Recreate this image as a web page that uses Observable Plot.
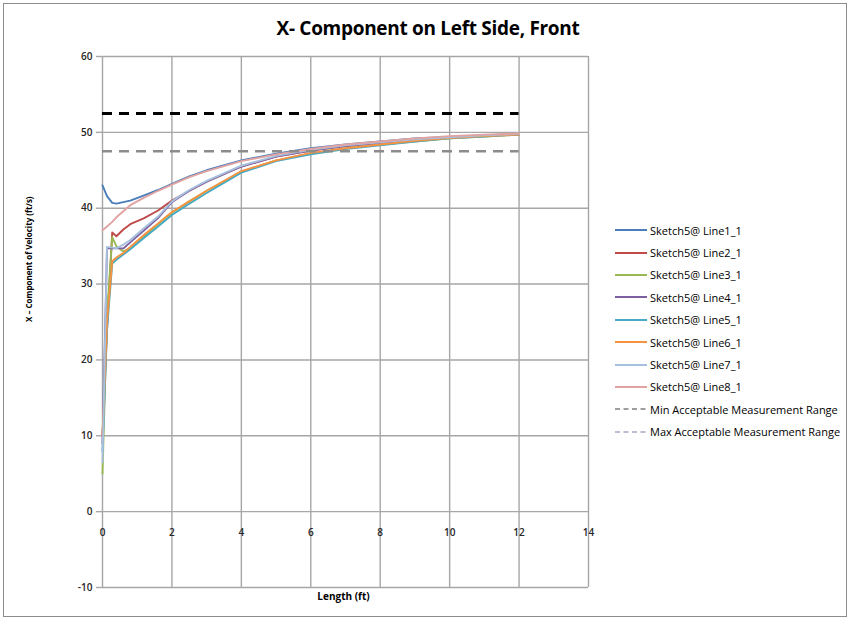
<!DOCTYPE html>
<html>
<head>
<meta charset="utf-8">
<script src="https://cdn.jsdelivr.net/npm/d3@7"></script>
<script src="https://cdn.jsdelivr.net/npm/@observablehq/plot@0.6"></script>
<style>
  html, body { margin: 0; padding: 0; background: #fff; }
  #wrap { position: relative; width: 852px; height: 621px; font-family: "Open Sans", sans-serif; }
  #border { position: absolute; left: 3px; top: 3px; width: 844px; height: 614px; border: 1px solid #8c8c8c; box-sizing: border-box; pointer-events: none; }
  #title { position: absolute; left: 0; width: 856px; top: 15px; text-align: center; font-size: 19px; font-weight: 700; color: #000; letter-spacing: -0.3px; }
  #chart { position: absolute; left: 0; top: 0; }
  #legend { position: absolute; left: 615px; top: 219px; font-size: 11px; color: #000; }
  .row { height: 22.4px; display: flex; align-items: center; white-space: nowrap; }
  .row svg { margin-right: 3px; }
</style>
</head>
<body>
<div id="wrap">
  <div id="chart"></div>
  <div id="title">X- Component on Left Side, Front</div>
  <div id="legend"></div>
  <div id="border"></div>
</div>
<script>
// Data
const xs = [0, 0.13, 0.28, 0.4, 0.6, 0.8, 1.2, 1.6, 2, 2.5, 3, 4, 5, 6, 7, 8, 9, 10, 11, 12];
const seriesNames = ["Sketch5@ Line1_1", "Sketch5@ Line2_1", "Sketch5@ Line3_1", "Sketch5@ Line4_1",
                     "Sketch5@ Line5_1", "Sketch5@ Line6_1", "Sketch5@ Line7_1", "Sketch5@ Line8_1"];
const line1 = [43.0, 41.6, 40.7, 40.6, 40.8, 41.0, 41.7, 42.4, 43.2, 44.2, 45.0, 46.3, 47.2, 47.9, 48.4, 48.8, 49.2, 49.4, 49.6, 49.8];
const line2 = [10.0, 24.0, 36.8, 36.3, 37.2, 37.9, 38.7, 39.7, 41.0, 42.3, 43.5, 45.5, 46.8, 47.6, 48.2, 48.6, 49.0, 49.3, 49.55, 49.75];
const line3 = [5.0, 26.0, 36.2, 35.0, 34.3, 34.7, 36.3, 37.9, 39.4, 40.9, 42.3, 44.8, 46.3, 47.2, 47.9, 48.4, 48.8, 49.2, 49.45, 49.7];
const line4 = [9.0, 34.7, 34.7, 34.7, 34.7, 35.5, 37.1, 38.7, 40.8, 42.3, 43.5, 45.5, 46.8, 47.6, 48.2, 48.6, 49.0, 49.3, 49.55, 49.75];
const line5 = [8.0, 24.0, 32.7, 33.2, 33.9, 34.6, 36.1, 37.6, 39.1, 40.6, 42.0, 44.7, 46.2, 47.1, 47.8, 48.3, 48.8, 49.2, 49.45, 49.7];
const line6 = [10.0, 25.0, 33.0, 33.5, 34.1, 34.9, 36.5, 38.0, 39.5, 40.9, 42.3, 44.9, 46.3, 47.3, 47.9, 48.4, 48.9, 49.25, 49.5, 49.7];
const line7 = [6.5, 34.9, 34.8, 34.7, 35.2, 35.8, 37.4, 38.9, 40.9, 42.4, 43.6, 45.6, 46.9, 47.7, 48.3, 48.7, 49.1, 49.35, 49.6, 49.8];
const line8 = [37.1, 37.6, 38.2, 38.8, 39.6, 40.4, 41.4, 42.3, 43.1, 44.1, 44.9, 46.2, 47.1, 47.8, 48.4, 48.8, 49.2, 49.5, 49.7, 49.85];
const seriesColors = ["#4a7ebb", "#be4b48", "#98b954", "#7d60a0", "#46aac5", "#f69240", "#a7c0de", "#e0a3a1"];
const rangeNames = ["Min Acceptable Measurement Range", "Max Acceptable Measurement Range"];
const rangeValues = [52.5, 47.5];
const rangeXEnd = 12;
const xTicks = [0, 2, 4, 6, 8, 10, 12, 14];
const yTicks = [-10, 0, 10, 20, 30, 40, 50, 60];

const allSeries = [line1, line2, line3, line4, line5, line6, line7, line8];
const data = [];
allSeries.forEach((vals, i) => vals.forEach((v, j) => data.push({series: seriesNames[i], x: xs[j], y: v})));
const rangeData = rangeValues.map((v, i) => ({name: rangeNames[i], y: v}));

const grid = "#a6a6a6";
const chart = Plot.plot({
  width: 852,
  height: 621,
  marginLeft: 102,
  marginRight: 264,
  marginTop: 56,
  marginBottom: 34,
  style: {fontFamily: "Open Sans, sans-serif", background: "transparent"},
  x: {domain: [0, 14], axis: null},
  y: {domain: [-10, 60], axis: null},
  color: {domain: seriesNames, range: seriesColors},
  marks: [
    Plot.gridX(xTicks, {stroke: grid, strokeOpacity: 1, strokeWidth: 1.4}),
    Plot.gridY(yTicks, {stroke: grid, strokeOpacity: 1, strokeWidth: 1.4}),
    Plot.axisY(yTicks, {tickSize: 6, tickPadding: 4, stroke: grid, strokeWidth: 1.4, fontSize: 10, fontWeight: 600, fill: "#262626", label: null, tickFormat: d => String(d)}),
    Plot.text(xTicks, {x: d => d, y: 0, dy: 21, text: d => String(d), fontSize: 10, fontWeight: 600, fill: "#262626"}),
    Plot.text(["X – Component of Velocity (ft/s)"], {frameAnchor: "left", dx: -73, rotate: -90, text: d => d, fontSize: 8, fontWeight: 700, fill: "#000"}),
    Plot.text(["Length (ft)"], {frameAnchor: "bottom", dy: 12, dx: -2, text: d => d, fontSize: 10, fontWeight: 700, fill: "#000"}),
    Plot.line(data, {x: "x", y: "y", z: "series", stroke: "series", strokeWidth: 1.9, strokeLinejoin: "round"}),
    Plot.ruleY(rangeData.slice(0, 1), {y: "y", x1: 0, x2: rangeXEnd, stroke: "#000", strokeWidth: 3, strokeDasharray: "10,7"}),
    Plot.ruleY(rangeData.slice(1), {y: "y", x1: 0, x2: rangeXEnd, stroke: "#8c8c8c", strokeWidth: 2.6, strokeDasharray: "10,7"})
  ]
});
document.getElementById("chart").appendChild(chart);

// Legend
const legend = document.getElementById("legend");
const legendItems = seriesNames.map((n, i) => ({name: n, color: seriesColors[i], dash: null}))
  .concat([{name: rangeNames[0], color: "#7f7f7f", dash: "5,3.5"}, {name: rangeNames[1], color: "#b3a2c7", dash: "5,3.5"}]);
legendItems.forEach(item => {
  const row = document.createElement("div");
  row.className = "row";
  const sw = `<svg width="32" height="6"><line x1="0" y1="3" x2="32" y2="3" stroke="${item.color}" stroke-width="${item.dash ? 1.6 : 2}" ${item.dash ? `stroke-dasharray="${item.dash}"` : ""}/></svg>`;
  row.innerHTML = sw + `<span>${item.name}</span>`;
  legend.appendChild(row);
});
</script>
</body>
</html>
